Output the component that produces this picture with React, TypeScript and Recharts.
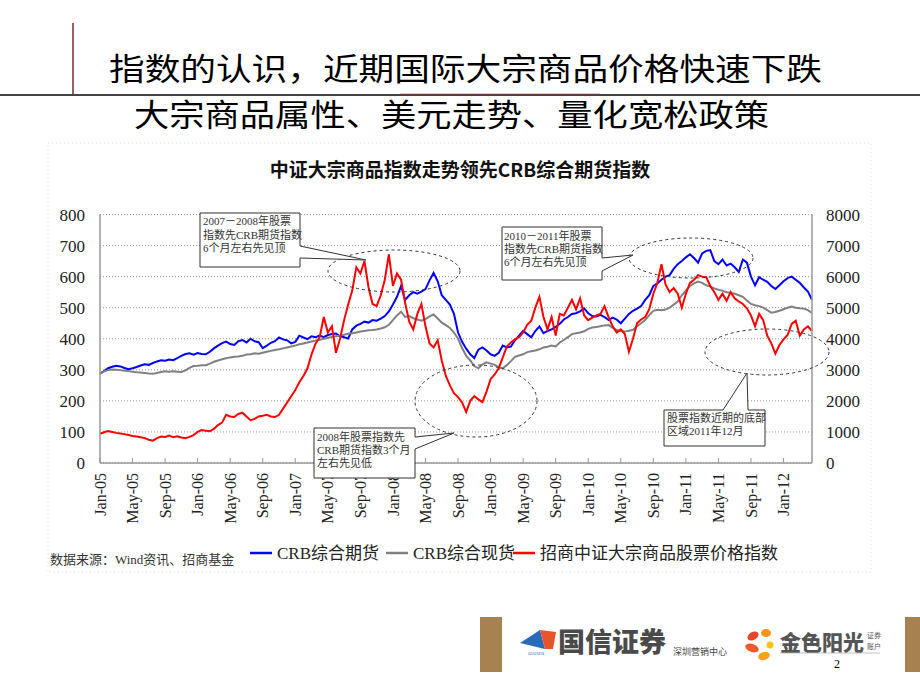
import React from "react";
import { LineChart, Line, XAxis, YAxis, CartesianGrid } from "recharts";

// x positions are months since Jan-05, sampled every half month
const tickMonths = [0, 4, 8, 12, 16, 20, 24, 28, 32, 36, 40, 44, 48, 52, 56, 60, 64, 68, 72, 76, 80, 84];
const tickLabels = [
  "Jan-05", "May-05", "Sep-05", "Jan-06", "May-06", "Sep-06", "Jan-07", "May-07",
  "Sep-07", "Jan-08", "May-08", "Sep-08", "Jan-09", "May-09", "Sep-09", "Jan-10",
  "May-10", "Sep-10", "Jan-11", "May-11", "Sep-11", "Jan-12",
];
const leftTicks = [0, 100, 200, 300, 400, 500, 600, 700, 800];
const rightTicks = [0, 1000, 2000, 3000, 4000, 5000, 6000, 7000, 8000];

const seriesNames = ["CRB综合期货", "CRB综合现货", "招商中证大宗商品股票价格指数"];
const seriesColors = ["#0000ff", "#808080", "#ff0000"];

// CRB综合期货 (left axis)
const crbFutures = [
  288, 296, 305, 310, 313, 311, 306, 302, 305, 309, 314, 318, 316, 322, 327, 331, 329, 333, 331, 338,
  345, 351, 353, 349, 354, 351, 350, 358, 369, 378, 386, 391, 383, 380, 392, 396, 388, 400, 392, 389,
  370, 378, 387, 392, 404, 398, 395, 385, 390, 410, 404, 399, 408, 405, 410, 405, 412, 415, 417, 408,
  405, 401, 430, 442, 448, 455, 452, 460, 458, 465, 473, 488, 510, 535, 570, 525, 540, 550, 545, 552,
  560, 588, 612, 585, 540, 525, 510, 480, 420, 390, 368, 350, 338, 365, 372, 362, 350, 345, 355, 378,
  372, 375, 395, 410, 425, 415, 405, 425, 440, 418, 425, 430, 438, 448, 462, 470, 480, 482, 488, 498,
  482, 473, 472, 477, 470, 460, 468, 462, 450, 465, 480, 490, 497, 505, 525, 540, 570, 578, 590, 600,
  605, 625, 640, 650, 662, 672, 660, 645, 675, 683, 685, 650, 640, 655, 636, 642, 630, 615, 655, 645,
  600, 572, 598, 590, 583, 570, 560, 572, 585, 595, 600, 590, 580, 565, 552, 525,
];

// CRB综合现货 (left axis)
const crbSpot = [
  288, 295, 299, 301, 300, 299, 297, 296, 294, 292, 291, 290, 288, 287, 290, 293, 295, 294, 295, 294,
  293, 298, 306, 312, 313, 315, 315, 320, 326, 330, 334, 337, 340, 342, 343, 345, 349, 350, 353, 352,
  355, 358, 361, 364, 366, 369, 372, 375, 378, 382, 385, 388, 391, 394, 397, 400, 403, 406, 408, 410,
  413, 416, 418, 420, 423, 425, 427, 428, 430, 433, 437, 445, 460, 475, 487, 470, 473, 466, 462, 458,
  463, 472, 478, 465, 452, 444, 435, 420, 400, 370, 345, 330, 312, 305, 318, 324, 320, 316, 308, 305,
  315, 328, 342, 346, 350, 357, 360, 362, 366, 372, 374, 378, 375, 388, 396, 405, 415, 418, 420, 424,
  432, 436, 438, 440, 443, 444, 436, 428, 425, 423, 426, 429, 440, 450, 460, 476, 490, 493, 492, 494,
  500, 510, 520, 540, 555, 570, 578, 584, 580, 572, 568, 562, 558, 555, 550, 548, 545, 540, 535, 523,
  512, 508, 505, 500, 492, 484, 486, 490, 495, 500, 504, 500, 498, 497, 492, 483,
];

// 招商中证大宗商品股票价格指数 (right axis)
const stockIndex = [
  940, 990, 1030, 1000, 970, 950, 930, 900, 870, 850, 830, 800, 750, 720, 800, 850, 840, 880, 830, 860,
  820, 800, 840, 900, 1000, 1060, 1040, 1020, 1100, 1220, 1300, 1550, 1500, 1480, 1580, 1620, 1500, 1380, 1420, 1500,
  1520, 1550, 1500, 1480, 1550, 1750, 1950, 2150, 2350, 2600, 2800, 3050, 3500, 3850, 4050, 4700, 4200, 4400, 3550, 4000,
  4600, 5100, 5550, 6300, 6100, 6500, 5650, 5120, 5050, 5400, 5900, 6720, 5700, 6100, 5900, 5150, 4550, 4300, 4800, 5120,
  4400, 3850, 3720, 3950, 3300, 2800, 2500, 2250, 2120, 1950, 1640, 2000, 2150, 2050, 1960, 2300, 2700, 2850, 3050, 3400,
  3750, 3880, 3980, 4050, 4200, 4450, 4580, 5000, 5350, 4700, 4300, 4700, 4100, 4800, 4750, 5000, 5250, 4950, 5300, 4750,
  4600, 4680, 4750, 4800, 5050, 4700, 4400, 4200, 4300, 4150, 3580, 4000, 4500, 4620, 4700, 4950, 5450, 5800, 6400, 5750,
  5500, 5630, 5450, 5000, 5450, 5800, 5900, 6050, 6000, 5980, 5700, 5500, 5250, 5450, 5220, 5500, 5300, 5200, 5120, 4980,
  4750, 4400, 4800, 4600, 4100, 3850, 3520, 3800, 3980, 4120, 4480, 4580, 4100, 4300, 4400, 4250,
];

const data = crbFutures.map((v, i) => ({
  t: i / 2,
  futures: v,
  spot: crbSpot[i],
  stock: stockIndex[i],
}));

const SERIF = '"Liberation Serif", "Noto Sans CJK SC", serif';
const CJK = '"Noto Sans CJK SC", sans-serif';

const XTick = ({ x, y, payload }: any) => {
  const label = tickLabels[tickMonths.indexOf(payload.value)];
  return (
    <g>
      <line x1={x} x2={x} y1={y} y2={y - 5} stroke="#999" />
      <text
        x={0}
        y={0}
        dy="0.35em"
        textAnchor="end"
        transform={`translate(${x},${y + 10}) rotate(-90)`}
        fontSize={16}
        fontFamily={SERIF}
        fill="#222"
      >
        {label}
      </text>
    </g>
  );
};

const noteStyle = { fontSize: 11, fontFamily: SERIF, fill: "#333" };

const Overlay = () => (
  <svg width={920} height={690} style={{ position: "absolute", left: 0, top: 0, pointerEvents: "none" }}>
    {/* slide header */}
    <line x1={73} y1={23} x2={73} y2={95} stroke="#7a2a2a" strokeWidth={1.5} />
    <line x1={0} y1={95} x2={920} y2={95} stroke="#444" strokeWidth={2} />
    <line x1={400} y1={94} x2={600} y2={94} stroke="#b04040" strokeWidth={1} opacity={0.6} />
    <text x={109} y={80} textLength={713} lengthAdjust="spacingAndGlyphs" fontSize={31} fontFamily={CJK} fill="#000">
      指数的认识，近期国际大宗商品价格快速下跌
    </text>
    <text x={134} y={126} textLength={635} lengthAdjust="spacingAndGlyphs" fontSize={31} fontFamily={CJK} fill="#000">
      大宗商品属性、美元走势、量化宽松政策
    </text>

    {/* chart frame and title */}
    <rect x={48} y={143} width={823} height={429} fill="none" stroke="#ddd" strokeDasharray="1 3" />
    <text x={460} y={177} textAnchor="middle" fontSize={19} fontWeight={700} fontFamily={CJK} fill="#111">
      中证大宗商品指数走势领先CRB综合期货指数
    </text>

    {/* annotations */}
    <g fill="none" stroke="#333" strokeDasharray="3 3" strokeWidth={1}>
      <ellipse cx={394} cy={271} rx={66} ry={21} />
      <ellipse cx={691} cy={258} rx={62} ry={20} />
      <ellipse cx={476} cy={401} rx={61} ry={36} />
      <ellipse cx={767} cy={352} rx={62} ry={23} />
    </g>
    <g fill="#fff" stroke="#333" strokeWidth={1}>
      <path d="M200,213 H300 V246 L366,260 L300,258 V267 H200 Z" />
      <path d="M502,227 H602 V258 L633,255 L602,271 V280 H502 Z" />
      <path d="M314,428 H415 V437 L454,433 L415,449 V478 H314 Z" />
      <path d="M664,410 H723 L747,373 L748,410 H765 V446 H664 Z" />
    </g>
    <g style={noteStyle}>
      <text x={203} y={225}>2007－2008年股票</text>
      <text x={203} y={239}>指数先CRB期货指数</text>
      <text x={203} y={252}>6个月左右先见顶</text>
      <text x={504} y={240}>2010－2011年股票</text>
      <text x={504} y={253}>指数先CRB期货指数</text>
      <text x={504} y={266}>6个月左右先见顶</text>
      <text x={317} y={441}>2008年股票指数先</text>
      <text x={317} y={454}>CRB期货指数3个月</text>
      <text x={317} y={467}>左右先见低</text>
      <text x={667} y={422}>股票指数近期的底部</text>
      <text x={667} y={435}>区域2011年12月</text>
    </g>

    {/* legend */}
    <text x={50} y={564} fontSize={13} fontFamily={SERIF} fill="#333">
      数据来源：Wind资讯、招商基金
    </text>
    {[250, 386, 513].map((lx, i) => (
      <g key={seriesNames[i]}>
        <line x1={lx} x2={lx + 22} y1={553} y2={553} stroke={seriesColors[i]} strokeWidth={2.5} />
        <text x={lx + 27} y={559} fontSize={17} fontFamily={SERIF} fill="#222">
          {seriesNames[i]}
        </text>
      </g>
    ))}

    {/* footer */}
    <rect x={480} y={617} width={22} height={55} fill="#a58250" />
    <rect x={905} y={617} width={15} height={55} fill="#a58250" />
    <polygon points="520,643 540,630 545,649" fill="#2a6ab8" />
    <polygon points="540,630 556,632 553,649 545,649" fill="#e8552a" />
    <text x={536} y={655} textAnchor="middle" fontSize={4} fontFamily={CJK} fill="#2a6ab8">GUOSEN</text>
    <text x={558} y={652} fontSize={27} fontWeight={900} fontFamily={CJK} fill="#4a4a4a">国信证券</text>
    <text x={673} y={655} fontSize={9} fontFamily={CJK} fill="#444">深圳营销中心</text>
    <g>
      <ellipse cx={753} cy={636} rx={6} ry={4} fill="#e8452a" transform="rotate(-30 753 636)" />
      <ellipse cx={766} cy={633} rx={5} ry={4} fill="#f7941d" />
      <ellipse cx={752} cy={648} rx={7} ry={4} fill="#f05a28" transform="rotate(20 752 648)" />
      <ellipse cx={764} cy={656} rx={6} ry={4} fill="#f7a21d" transform="rotate(-20 764 656)" />
      <circle cx={770} cy={645} r={3.5} fill="#ffc20e" />
    </g>
    <text x={780} y={650} fontSize={21} fontWeight={900} fontFamily={CJK} fill="#555">金色阳光</text>
    <text x={867} y={638} fontSize={7} fontFamily={CJK} fill="#555">证券</text>
    <text x={867} y={649} fontSize={7} fontFamily={CJK} fill="#555">账户</text>
    <line x1={780} x2={880} y1={653} y2={653} stroke="#999" strokeWidth={0.6} />
    <text x={834} y={668} fontSize={12} fontFamily={SERIF} fill="#000">2</text>
  </svg>
);

export default function App() {
  return (
    <div style={{ position: "absolute", left: 0, top: 0, width: 920, height: 690, background: "#fff" }}>
      <LineChart width={920} height={690} data={data} margin={{ top: 214.5, right: 48, bottom: 167, left: 40 }}>
        <CartesianGrid yAxisId="left" vertical={false} stroke="#999" strokeDasharray="1 2" />
        <XAxis
          dataKey="t"
          type="number"
          domain={[0, 87.5]}
          ticks={tickMonths}
          interval={0}
          height={60}
          tickSize={0}
          tickMargin={0}
          tickLine={false}
          axisLine={{ stroke: "#999", strokeWidth: 1.5 }}
          tick={<XTick />}
        />
        <YAxis
          yAxisId="left"
          domain={[0, 800]}
          ticks={leftTicks}
          interval={0}
          width={60}
          tickSize={0}
          tickMargin={15}
          tickLine={false}
          axisLine={{ stroke: "#999", strokeWidth: 1.5 }}
          tick={{ fontSize: 17, fill: "#222", fontFamily: SERIF }}
        />
        <YAxis
          yAxisId="right"
          orientation="right"
          domain={[0, 8000]}
          ticks={rightTicks}
          interval={0}
          width={60}
          tickSize={0}
          tickMargin={14}
          tickLine={false}
          axisLine={{ stroke: "#999", strokeWidth: 1.5 }}
          tick={{ fontSize: 17, fill: "#222", fontFamily: SERIF, textAnchor: "start" }}
        />
        <Line yAxisId="left" dataKey="futures" name={seriesNames[0]} stroke={seriesColors[0]} strokeWidth={2} dot={false} isAnimationActive={false} />
        <Line yAxisId="left" dataKey="spot" name={seriesNames[1]} stroke={seriesColors[1]} strokeWidth={2} dot={false} isAnimationActive={false} />
        <Line yAxisId="right" dataKey="stock" name={seriesNames[2]} stroke={seriesColors[2]} strokeWidth={2} dot={false} isAnimationActive={false} />
      </LineChart>
      <Overlay />
    </div>
  );
}
